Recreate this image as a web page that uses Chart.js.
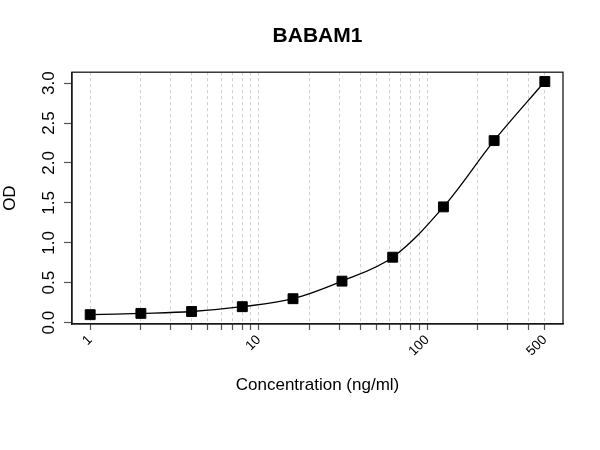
<!DOCTYPE html>
<html>
<head>
<meta charset="utf-8">
<title>BABAM1</title>
<script src="https://cdn.jsdelivr.net/npm/chart.js@4.4.1/dist/chart.umd.min.js"></script>
<style>
    body { margin: 0; background: #fff; }
    canvas { display: block; }
</style>
</head>
<body>
<canvas id="myChart" width="600" height="450"></canvas>
<script>
const ctx = document.getElementById("myChart");

// standard curve
let concentration = [1, 2, 4, 8, 16, 31.25, 62.5, 125, 250, 500];
let od = [0.10, 0.116, 0.14, 0.20, 0.30, 0.52, 0.82, 1.45, 2.28, 3.02];

// axis ticks
let xTicks = [1, 2, 3, 4, 5, 6, 7, 8, 9, 10, 20, 30, 40, 50, 60, 70, 80, 90, 100, 200, 300, 400, 500];
let xLabels = [1, 10, 100, 500];
let yTicks = [0, 0.5, 1, 1.5, 2, 2.5, 3];

let font = "'Liberation Sans', Arial, sans-serif";
Chart.defaults.color = "#000";
Chart.defaults.font.family = font;

// R style box round the plot area
let boxPlugin = {
    id: "box",
    afterDraw(chart) {
        let a = chart.chartArea;
        let c = chart.ctx;
        c.save();
        c.strokeStyle = "#1a1a1a";
        c.lineWidth = 1.3;
        c.strokeRect(a.left, a.top, a.right - a.left, a.bottom - a.top);
        c.restore();
    }
};

let chart = new Chart(ctx, {
    type: "scatter",
    data: {
        datasets: [
            {
                label: "BABAM1",
                data: concentration.map((x, i) => ({ x: x, y: od[i] })),
                showLine: true,
                tension: 0.35,
                borderColor: "#000",
                borderWidth: 1.3,
                pointStyle: "rect",
                pointRadius: 7,
                pointBackgroundColor: "#000",
                pointBorderColor: "#000",
                pointBorderWidth: 1,
            },
        ],
    },
    options: {
        responsive: false,
        animation: false,
        layout: {
            padding: { left: 0, right: 37, top: 0, bottom: 0 }
        },
        scales: {
            x: {
                type: "logarithmic",
                min: 0.78,
                max: 641,
                afterBuildTicks: (scale) => {
                    scale.ticks = xTicks.map(v => ({ value: v }));
                },
                afterFit: (scale) => {
                    scale.height = 126;
                },
                ticks: {
                    autoSkip: false,
                    minRotation: 45,
                    maxRotation: 45,
                    padding: 2,
                    font: { size: 13.5 },
                    callback: (v) => xLabels.includes(v) ? String(v) : "",
                },
                grid: {
                    color: "#cfcfcf",
                    lineWidth: 1,
                    drawTicks: true,
                    tickLength: 6,
                    tickColor: "#555",
                    tickWidth: 1.2,
                },
                border: {
                    color: "#1a1a1a",
                    width: 1.3,
                    dash: [3, 3],
                },
                title: {
                    display: true,
                    text: "Concentration (ng/ml)",
                    font: { size: 17 },
                    padding: { top: 0, bottom: 54 },
                },
            },
            y: {
                min: -0.0168,
                max: 3.1368,
                afterBuildTicks: (scale) => {
                    scale.ticks = yTicks.map(v => ({ value: v }));
                },
                afterFit: (scale) => {
                    scale.width = 72;
                },
                ticks: {
                    minRotation: 90,
                    maxRotation: 90,
                    crossAlign: "center",
                    padding: 3,
                    font: { size: 17 },
                    callback: (v) => v.toFixed(1),
                },
                grid: {
                    drawOnChartArea: false,
                    drawTicks: true,
                    tickLength: 8,
                    tickColor: "#555",
                    tickWidth: 1.2,
                },
                border: {
                    color: "#1a1a1a",
                    width: 1.3,
                },
                title: {
                    display: true,
                    text: "OD",
                    font: { size: 17 },
                    padding: { top: 0, bottom: 0 },
                },
            },
        },
        plugins: {
            legend: { display: false },
            tooltip: { enabled: false },
            title: {
                display: true,
                text: "BABAM1",
                fullSize: false,
                font: { size: 21, weight: "bold" },
                padding: { top: 24, bottom: 23 },
            },
        },
    },
    plugins: [boxPlugin],
});
</script>
</body>
</html>
